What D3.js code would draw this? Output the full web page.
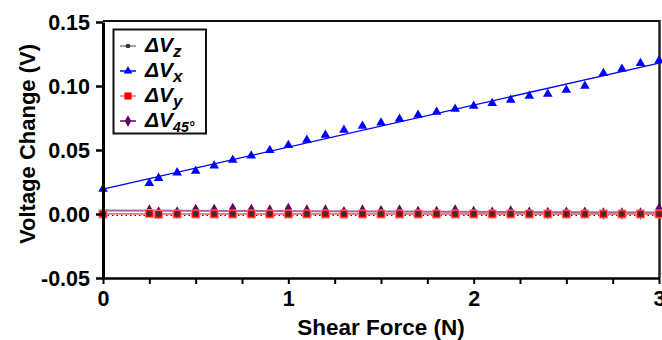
<!DOCTYPE html>
<html>
<head>
<meta charset="utf-8">
<script src="https://cdn.jsdelivr.net/npm/d3@7"></script>
<style>
  body { margin: 0; background: #fff; }
  svg text { font-family: "Liberation Sans", Arial, sans-serif; font-weight: bold; }
</style>
</head>
<body>
<div id="vis"></div>
<script>
const FRAME_WIDTH = 662;
const FRAME_HEIGHT = 340;
const MARGINS = {left: 103, right: 3, top: 22, bottom: 62};

// shear force (N)
const forceN = [0, 0.25, 0.3, 0.4, 0.5, 0.6, 0.7, 0.8, 0.9, 1.0,
                1.1, 1.2, 1.3, 1.4, 1.5, 1.6, 1.7, 1.8, 1.9, 2.0,
                2.1, 2.2, 2.3, 2.4, 2.5, 2.6, 2.7, 2.8, 2.9, 3.0];
// voltage changes (V)
const dVz = [0, 0.0001, 0, 0, 0.0001, 0, 0, 0.0001, 0, 0,
             0, 0.0001, 0, 0, 0, 0.0001, 0, 0, 0, 0,
             0.0001, 0, 0, 0, 0, 0, 0, 0, 0, 0];
const dVx = [0.0195, 0.024, 0.028, 0.0323, 0.0336, 0.0377, 0.0422, 0.0455, 0.0498, 0.0537,
             0.0578, 0.0617, 0.0656, 0.0688, 0.0713, 0.0742, 0.0773, 0.0797, 0.082, 0.0844,
             0.0865, 0.0891, 0.0922, 0.0938, 0.0969, 0.100, 0.110, 0.1133, 0.1177, 0.1198];
const dVy = [0, 0.0004, -0.0002, 0, 0, 0, 0, 0, 0, 0,
             0, 0, 0, 0, 0, 0, 0, 0, 0, 0,
             0, 0, 0, 0, 0, 0, 0, 0, 0, 0];
const dV45 = [0.0005, 0.0026, 0.0012, 0.0012, 0.0031, 0.0031, 0.0039, 0.0031, 0.0026, 0.0039,
              0.0026, 0.0026, 0.0013, 0.0026, 0.0021, 0.0026, 0.0015, 0.0015, 0.0026, 0.0015,
              0.0010, 0.0020, 0.0010, 0.0007, 0.0010, 0.0010, 0.0004, 0.0004, 0.0004, 0.0039];

const xTicks = [0, 0.25, 0.5, 0.75, 1, 1.25, 1.5, 1.75, 2, 2.25, 2.5, 2.75, 3];
const xLabels = [0, 1, 2, 3];
const yTicks = [-0.05, 0, 0.05, 0.10, 0.15];

const VIS_WIDTH = FRAME_WIDTH - MARGINS.left - MARGINS.right;
const VIS_HEIGHT = FRAME_HEIGHT - MARGINS.top - MARGINS.bottom;

const FRAME = d3.select("#vis")
  .append("svg")
    .attr("width", FRAME_WIDTH)
    .attr("height", FRAME_HEIGHT);

const X_SCALE = d3.scaleLinear().domain([0, 3]).range([MARGINS.left, MARGINS.left + VIS_WIDTH]);
const Y_SCALE = d3.scaleLinear().domain([-0.05, 0.15]).range([MARGINS.top + VIS_HEIGHT, MARGINS.top]);

// least squares fit, used for the straight lines
function lsq(xs, ys) {
  const mx = d3.mean(xs), my = d3.mean(ys);
  let num = 0, den = 0;
  xs.forEach((x, i) => { num += (x - mx) * (ys[i] - my); den += (x - mx) * (x - mx); });
  const b = num / den;
  return [my - b * mx, b];
}

const series = [
  {name: "z", values: dVz, color: "#333333", lineColor: "#888888", symbol: d3.symbolCircle, size: 22},
  {name: "x", values: dVx, color: "#0000ff", lineColor: "#0000ff", symbol: d3.symbolTriangle, size: 40},
  {name: "y", values: dVy, color: "#ff0000", lineColor: "#ff7070", symbol: d3.symbolSquare, size: 64},
  {name: "45°", values: dV45, color: "#660066", lineColor: "#660066", symbol: d3.symbolDiamond, size: 46}
];

// frame top / right
FRAME.append("line")
  .attr("x1", MARGINS.left).attr("x2", FRAME_WIDTH - 2)
  .attr("y1", MARGINS.top - 1).attr("y2", MARGINS.top - 1)
  .attr("stroke", "#111").attr("stroke-width", 2);
FRAME.append("line")
  .attr("x1", FRAME_WIDTH - 2.5).attr("x2", FRAME_WIDTH - 2.5)
  .attr("y1", MARGINS.top - 2).attr("y2", MARGINS.top + VIS_HEIGHT)
  .attr("stroke", "#222").attr("stroke-width", 2.5);

// dotted zero line
FRAME.append("line")
  .attr("x1", X_SCALE(0)).attr("x2", X_SCALE(3))
  .attr("y1", Y_SCALE(0) + 1.5).attr("y2", Y_SCALE(0) + 1.5)
  .attr("stroke", "#222").attr("stroke-width", 1)
  .attr("stroke-dasharray", "1.5,3");

// fit lines
const fitLine = d3.line().x(d => X_SCALE(d[0])).y(d => Y_SCALE(d[1]));
["45°", "z", "y", "x"].forEach(n => {
  const s = series.find(d => d.name === n);
  const ab = lsq(forceN, s.values);
  const ends = [0, 3].map(x => [x, ab[0] + ab[1] * x]);
  FRAME.append("path")
    .attr("d", fitLine(ends))
    .attr("fill", "none")
    .attr("stroke", s.lineColor)
    .attr("stroke-opacity", n === "45°" ? 0.6 : 1)
    .attr("stroke-width", n === "45°" ? 2 : 1.3);
});

// markers
["45°", "y", "z", "x"].forEach(n => {
  const s = series.find(d => d.name === n);
  FRAME.append("g").selectAll("path")
    .data(s.values)
    .enter()
    .append("path")
      .attr("d", d3.symbol().type(s.symbol).size(s.size))
      .attr("transform", (d, i) => "translate(" + X_SCALE(forceN[i]) + "," + Y_SCALE(d) + ")")
      .attr("fill", s.color)
      .attr("stroke", n === "y" ? "#ff8080" : "none")
      .attr("stroke-width", 1);
});

// y axis
const yAxis = FRAME.append("g")
  .attr("transform", "translate(" + MARGINS.left + ",0)")
  .call(d3.axisLeft(Y_SCALE).tickValues(yTicks).tickSize(7).tickSizeOuter(0)
    .tickFormat(d => d3.format(".2f")(d).replace("\u2212", "-")));
yAxis.select(".domain").attr("stroke-width", 3).attr("stroke", "#000");
yAxis.selectAll(".tick line").attr("stroke-width", 2.5);
yAxis.selectAll("text").attr("font-size", "21.5px").attr("fill", "#000").attr("dx", "-3").attr("dy", "0.36em");

// x axis
const xAxis = FRAME.append("g")
  .attr("transform", "translate(0," + (MARGINS.top + VIS_HEIGHT) + ")")
  .call(d3.axisBottom(X_SCALE).tickValues(xTicks).tickSize(6).tickSizeOuter(0)
    .tickFormat(d => xLabels.includes(d) ? d : ""));
xAxis.select(".domain").attr("stroke-width", 2.5).attr("stroke", "#000");
xAxis.selectAll(".tick line").attr("stroke-width", 2);
xAxis.selectAll("text").attr("font-size", "21.5px").attr("fill", "#000").attr("dy", "0.88em");

// axis titles
FRAME.append("text")
  .attr("x", X_SCALE(1.5)).attr("y", 335)
  .attr("text-anchor", "middle").attr("font-size", "22.5px")
  .text("Shear Force (N)");
FRAME.append("text")
  .attr("transform", "translate(35," + (Y_SCALE(0.05) - 6) + ") rotate(-90)")
  .attr("text-anchor", "middle").attr("font-size", "22px")
  .text("Voltage Change (V)");

// legend
const LEG = FRAME.append("g");
LEG.append("rect")
  .attr("x", 113.5).attr("y", 29.5).attr("width", 92.5).attr("height", 104)
  .attr("fill", "#fff").attr("stroke", "#111").attr("stroke-width", 2);
series.forEach((s, i) => {
  const cy = 46 + i * 25;
  LEG.append("path")
    .attr("d", "M120," + cy + "H136")
    .attr("stroke", s.lineColor).attr("stroke-width", 1.5);
  LEG.append("path")
    .attr("d", d3.symbol().type(s.symbol).size(s.size * 0.8))
    .attr("transform", "translate(128," + cy + ")")
    .attr("fill", s.color);
  const t = LEG.append("text")
    .attr("x", 145).attr("y", cy + 6)
    .attr("font-size", "21px").attr("font-style", "italic");
  t.append("tspan").text("\u0394V");
  t.append("tspan").attr("dy", 5).attr("font-size", s.name === "45°" ? "14px" : "17px").text(s.name);
});
</script>
</body>
</html>
